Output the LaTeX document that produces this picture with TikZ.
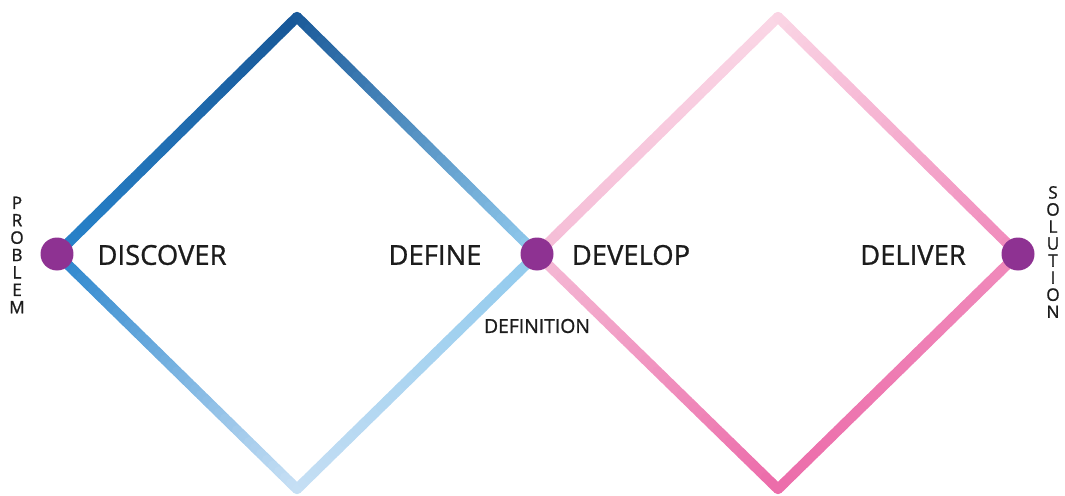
\documentclass[tikz,border=0pt]{standalone}
\usepackage{fontspec}
\setmainfont{Open Sans}
\newfontfamily\stagefont{Open Sans}[FakeBold=1]
\usetikzlibrary{calc}

\definecolor{blueTop}{RGB}{24,88,152}
\definecolor{blueLeft}{RGB}{40,132,204}
\definecolor{blueRight}{RGB}{145,202,237}
\definecolor{blueBottom}{RGB}{198,223,244}
\definecolor{pinkLeft}{RGB}{245,188,214}
\definecolor{pinkTop}{RGB}{250,214,229}
\definecolor{pinkRight}{RGB}{240,138,187}
\definecolor{pinkBottom}{RGB}{236,108,170}
\definecolor{dotPurple}{RGB}{142,50,146}
\definecolor{labelGrey}{RGB}{28,28,28}

% one side of a diamond, shaded from #3 at (#1) to #4 at (#2)
\newcommand\gradedge[4]{%
	\foreach \k [evaluate=\k as \p using {int(100-(\k-0.5)*100/40)},
	             evaluate=\k as \s using {(\k-1)/40},
	             evaluate=\k as \e using {\k/40}] in {1,...,40}
		\draw[edge, color=#3!\p!#4] ($(#1)!\s!(#2)$) -- ($(#1)!\e!(#2)$);
}

\tikzset{
	edge/.style={line width=5.8pt, line cap=round},
	stage/.style={font=\stagefont\fontsize{15.6}{18}\selectfont, text=labelGrey, inner sep=0pt},
	endword/.style={font=\stagefont\fontsize{9.8}{9.9}\selectfont, text=labelGrey, align=center, inner sep=0pt},
	dot/.style={circle, fill=dotPurple, minimum size=0.66cm, inner sep=0pt}
}

\begin{document}
\begin{tikzpicture}[x=0.02cm, y=0.02cm]
	\useasboundingbox (0,0) rectangle (1065,495);
	
	% corners of the two diamonds
	\coordinate (p) at (57,241);
	\coordinate (t1) at (297,478);
	\coordinate (b1) at (297,6);
	\coordinate (m) at (537,241);
	\coordinate (t2) at (778,478);
	\coordinate (b2) at (778,6);
	\coordinate (s) at (1018,241);
	
	% first diamond
	\gradedge{p}{t1}{blueLeft}{blueTop}
	\gradedge{t1}{m}{blueTop}{blueRight}
	\gradedge{p}{b1}{blueLeft}{blueBottom}
	\gradedge{b1}{m}{blueBottom}{blueRight}
	
	% second diamond
	\gradedge{m}{t2}{pinkLeft}{pinkTop}
	\gradedge{t2}{s}{pinkTop}{pinkRight}
	\gradedge{m}{b2}{pinkLeft}{pinkBottom}
	\gradedge{b2}{s}{pinkBottom}{pinkRight}
	
	\node[dot] (prob) at (p) {};
	\node[dot] (defn) at (m) {};
	\node[dot] (sol) at (s) {};
	
	\node[stage] (discover) at (162,240) {DISCOVER};
	\node[stage] (define) at (435,240) {DEFINE};
	\node[stage] (develop) at (631,240) {DEVELOP};
	\node[stage] (deliver) at (913,240) {DELIVER};
	\node[stage, font=\stagefont\fontsize{11}{13}\selectfont] (definition) at (537,169) {DEFINITION};
	
	\node[endword] (problem) at (17,240) {P\\R\\O\\B\\L\\E\\M};
	\node[endword, font=\stagefont\fontsize{9.8}{9.7}\selectfont] (solution) at (1053,243) {S\\O\\L\\U\\T\\I\\O\\N};
\end{tikzpicture}
\end{document}
